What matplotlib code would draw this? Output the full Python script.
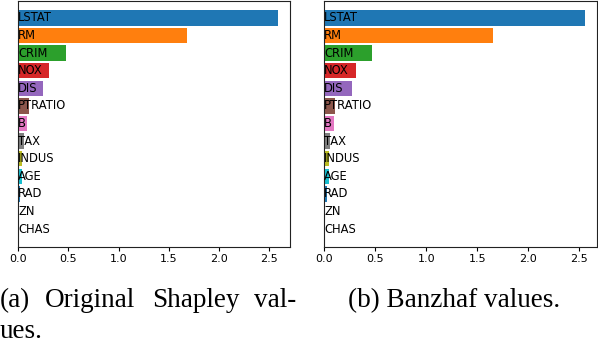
import matplotlib
matplotlib.use("Agg")
import matplotlib.pyplot as plt

features = ["LSTAT", "RM", "CRIM", "NOX", "DIS", "PTRATIO", "B",
            "TAX", "INDUS", "AGE", "RAD", "ZN", "CHAS"]
shapley = [2.59, 1.68, 0.475, 0.306, 0.246, 0.107, 0.087,
           0.057, 0.037, 0.037, 0.014, 0.004, 0.001]
banzhaf = [2.558, 1.656, 0.468, 0.311, 0.272, 0.105, 0.095,
           0.056, 0.046, 0.046, 0.023, 0.003, 0.002]

colors = ["C%d" % (i % 10) for i in range(len(features))]

fig = plt.figure(figsize=(5.98, 3.44), dpi=100)
ax1 = fig.add_axes([0.0306, 0.281, 0.4543, 0.717])
ax2 = fig.add_axes([0.5423, 0.281, 0.4555, 0.717])

for ax, vals in ((ax1, shapley), (ax2, banzhaf)):
    pos = list(range(len(features)))
    ax.barh(pos, vals, height=0.88, color=colors)
    for i, name in enumerate(features):
        ax.text(0, i, name, ha="left", va="center", fontsize=8.3)
    ax.set_yticks([])
    ax.set_ylim(13.04, -0.98)
    ax.set_xticks([0.0, 0.5, 1.0, 1.5, 2.0, 2.5])
    ax.tick_params(axis="x", labelsize=8, length=3, pad=2)
    for s in ax.spines.values():
        s.set_color("#222222")

ax1.set_xlim(0, 2.706)
ax2.set_xlim(0, 2.673)

# captions (justified text in the paper, so words are placed one by one)
cap = dict(fontsize=19.5, family="Liberation Serif", va="baseline")
words_a = ["(a)", "Original", "Shapley", "val-"]
xs_a = [0, 45, 152, 254]
for w, x in zip(words_a, xs_a):
    fig.text(x / 598, (344 - 307) / 344, w, **cap)
fig.text(0, (344 - 338) / 344, "ues.", **cap)
fig.text(348 / 598, (344 - 307) / 344, "(b) Banzhaf values.", **cap)

fig.savefig("out.png", dpi=100)
